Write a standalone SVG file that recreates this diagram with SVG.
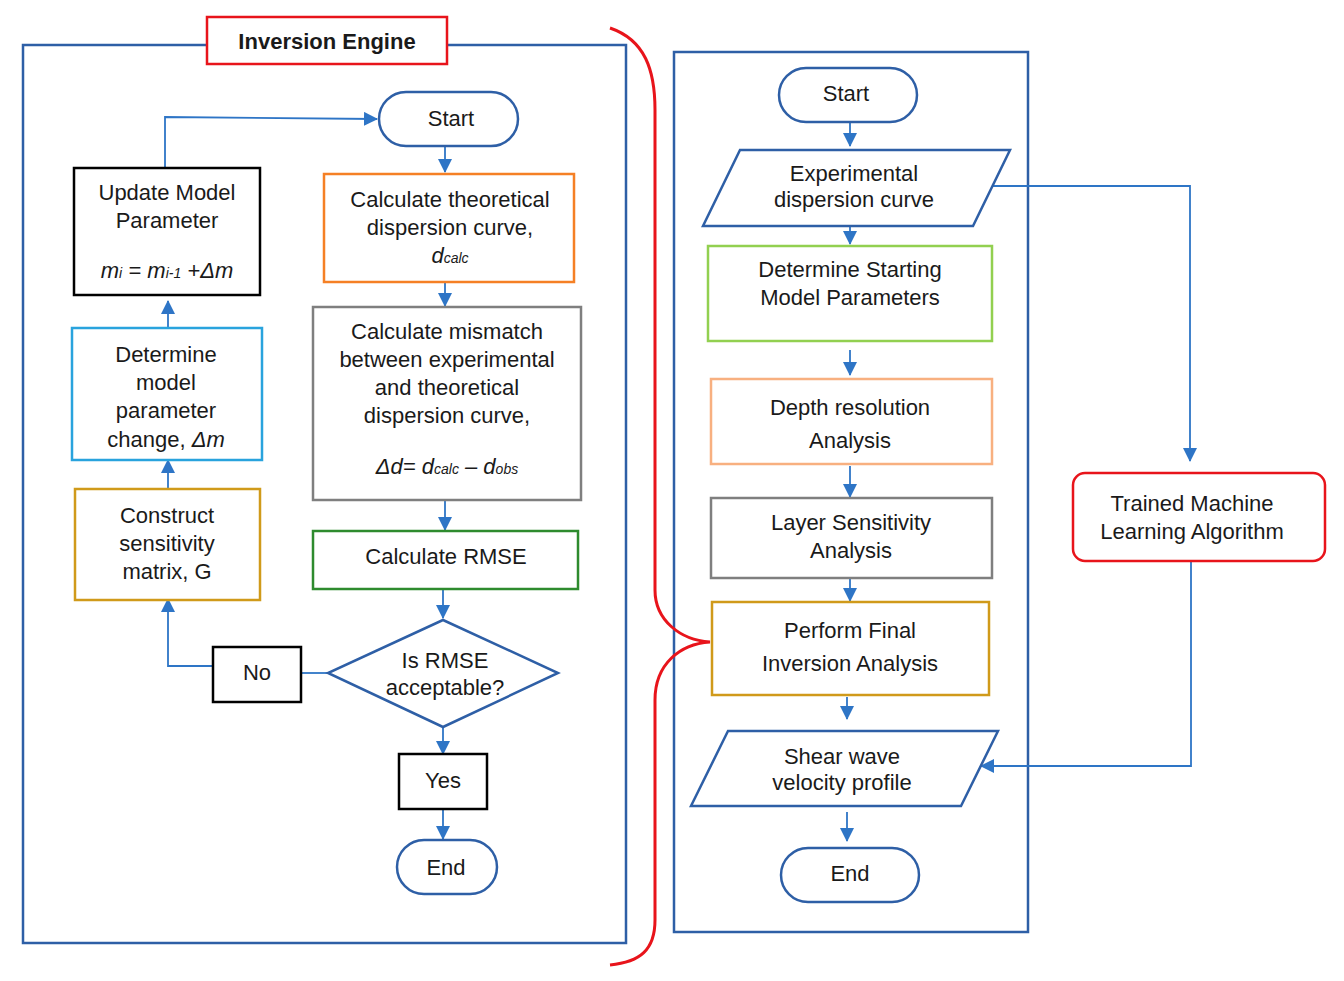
<svg xmlns="http://www.w3.org/2000/svg" width="1344" height="981" viewBox="0 0 1344 981">
<style>
text{font-family:"Liberation Sans",Arial,sans-serif;font-size:22px;fill:#1a1a1a;text-anchor:middle}
.n{fill:#fff;stroke-width:2.5}
.c{fill:none;stroke:#2E75C6;stroke-width:1.8}
.i{font-style:italic}
.s{font-size:14px;font-style:italic}
</style>
<defs><marker id="a" markerWidth="14" markerHeight="14" refX="13" refY="7" orient="auto" markerUnits="userSpaceOnUse"><path d="M0,0L14,7L0,14z" fill="#2E75C6"/></marker></defs>
<rect x="0" y="0" width="1344" height="981" fill="#fff"/>
<rect x="23" y="45" width="603" height="898" fill="none" stroke="#2E5FA6" stroke-width="2.5"/>
<rect x="674" y="52" width="354" height="880" fill="none" stroke="#2E5FA6" stroke-width="2.5"/>
<path d="M610,28 C645,40 655,70 655,110 L655,590 C655,620 680,640 710,642 C680,644 655,664 655,700 L655,920 C655,950 640,962 610,965" fill="none" stroke="#E8141B" stroke-width="3"/>
<g id="connectors">
<path class="c" d="M445,146V172" marker-end="url(#a)"/>
<path class="c" d="M445,282V306" marker-end="url(#a)"/>
<path class="c" d="M445,500V530" marker-end="url(#a)"/>
<path class="c" d="M443,589V618" marker-end="url(#a)"/>
<path class="c" d="M443,727V754" marker-end="url(#a)"/>
<path class="c" d="M443,809V839" marker-end="url(#a)"/>
<path class="c" d="M328,673H301"/>
<path class="c" d="M213,666H168V599" marker-end="url(#a)"/>
<path class="c" d="M168,489V460" marker-end="url(#a)"/>
<path class="c" d="M168,328V301" marker-end="url(#a)"/>
<path class="c" d="M165,168V117L377,119" marker-end="url(#a)"/>
<path class="c" d="M850,122V146" marker-end="url(#a)"/>
<path class="c" d="M850,226V244" marker-end="url(#a)"/>
<path class="c" d="M850,350V375" marker-end="url(#a)"/>
<path class="c" d="M850,466V497" marker-end="url(#a)"/>
<path class="c" d="M850,578V601" marker-end="url(#a)"/>
<path class="c" d="M847,697V719" marker-end="url(#a)"/>
<path class="c" d="M847,812V841" marker-end="url(#a)"/>
<path class="c" d="M986,186H1190V461" marker-end="url(#a)"/>
<path class="c" d="M1191,561V766H981" marker-end="url(#a)"/>
</g>
<g id="title"><rect x="207" y="17" width="240" height="47" fill="#fff" stroke="#E8141B" stroke-width="2.5"/><text x="327" y="49" font-weight="bold">Inversion Engine</text></g>
<g id="start1"><rect class="n" x="379" y="92" width="139" height="54" rx="27" stroke="#2E5FA6"/><text x="451" y="126">Start</text></g>
<g id="calc"><rect class="n" x="324" y="174" width="250" height="108" stroke="#F58025"/><text x="450" y="207">Calculate theoretical</text><text x="450" y="235">dispersion curve,</text><text x="450" y="263" class="i">d<tspan class="s">calc</tspan></text></g>
<g id="mismatch"><rect class="n" x="313" y="307" width="268" height="193" stroke="#7F7F7F"/><text x="447" y="339">Calculate mismatch</text><text x="447" y="367">between experimental</text><text x="447" y="395">and theoretical</text><text x="447" y="423">dispersion curve,</text><text x="447" y="474" class="i">Δd= d<tspan class="s">calc</tspan> – d<tspan class="s">obs</tspan></text></g>
<g id="rmse"><rect class="n" x="313" y="531" width="265" height="58" stroke="#2E8B2E"/><text x="446" y="564">Calculate RMSE</text></g>
<g id="decision"><path class="n" d="M443,620L558,673L443,727L328,673z" stroke="#2E5FA6"/><text x="445" y="668">Is RMSE</text><text x="445" y="695">acceptable?</text></g>
<g id="yes"><rect class="n" x="399" y="754" width="88" height="55" stroke="#000"/><text x="443" y="788">Yes</text></g>
<g id="end1"><rect class="n" x="397" y="840" width="100" height="54" rx="27" stroke="#2E5FA6"/><text x="446" y="875">End</text></g>
<g id="no"><rect class="n" x="213" y="647" width="88" height="55" stroke="#000"/><text x="257" y="680">No</text></g>
<g id="construct"><rect class="n" x="75" y="489" width="185" height="111" stroke="#D09A1A"/><text x="167" y="523">Construct</text><text x="167" y="551">sensitivity</text><text x="167" y="579">matrix, G</text></g>
<g id="determine"><rect class="n" x="72" y="328" width="190" height="132" stroke="#29A3DD"/><text x="166" y="362">Determine</text><text x="166" y="390">model</text><text x="166" y="418">parameter</text><text x="166" y="447">change, <tspan class="i">Δm</tspan></text></g>
<g id="update"><rect class="n" x="74" y="168" width="186" height="127" stroke="#000"/><text x="167" y="200">Update Model</text><text x="167" y="228">Parameter</text><text x="167" y="278" class="i">m<tspan class="s">i</tspan> = m<tspan class="s">i-1</tspan> +Δm</text></g>
<g id="start2"><rect class="n" x="779" y="68" width="138" height="54" rx="27" stroke="#2E5FA6"/><text x="846" y="101">Start</text></g>
<g id="exp"><path class="n" d="M740,150H1010L973,226H703z" stroke="#2E5FA6"/><text x="854" y="181">Experimental</text><text x="854" y="207">dispersion curve</text></g>
<g id="starting"><rect class="n" x="708" y="246" width="284" height="95" stroke="#92D050"/><text x="850" y="277">Determine Starting</text><text x="850" y="305">Model Parameters</text></g>
<g id="depth"><rect class="n" x="711" y="379" width="281" height="85" stroke="#F8B080"/><text x="850" y="415">Depth resolution</text><text x="850" y="448">Analysis</text></g>
<g id="layer"><rect class="n" x="711" y="498" width="281" height="80" stroke="#7F7F7F"/><text x="851" y="530">Layer Sensitivity</text><text x="851" y="558">Analysis</text></g>
<g id="final"><rect class="n" x="712" y="602" width="277" height="93" stroke="#D09A1A"/><text x="850" y="638">Perform Final</text><text x="850" y="671">Inversion Analysis</text></g>
<g id="shear"><path class="n" d="M728,731H998L961,806H691z" stroke="#2E5FA6"/><text x="842" y="764">Shear wave</text><text x="842" y="790">velocity profile</text></g>
<g id="end2"><rect class="n" x="781" y="848" width="138" height="54" rx="27" stroke="#2E5FA6"/><text x="850" y="881">End</text></g>
<g id="ml"><rect class="n" x="1073" y="473" width="252" height="88" rx="12" stroke="#E8141B" stroke-width="4.5"/><text x="1192" y="511">Trained Machine</text><text x="1192" y="539">Learning Algorithm</text></g>
</svg>
